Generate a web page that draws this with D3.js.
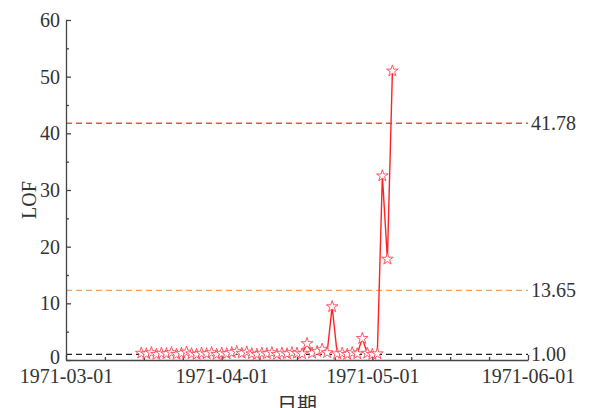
<!DOCTYPE html>
<html>
<head>
<meta charset="utf-8">
<script src="https://cdn.jsdelivr.net/npm/d3@7"></script>
<style>
  html, body { margin: 0; padding: 0; background: #fff; }
  svg { display: block; }
  .axis text { font-family: "Liberation Serif", "DejaVu Serif", serif; font-size: 20px; fill: #333; }
  .axis path, .axis line { stroke: #444; stroke-width: 1.3; }
  .thr-label { font-family: "Liberation Serif", serif; font-size: 20px; fill: #333; }
  .title { font-family: "Liberation Serif", serif; font-size: 20px; fill: #333; }
</style>
</head>
<body>
<div id="chart"></div>
<script>
// data (daily LOF values)
const dates = [
  '1971-03-16','1971-03-17','1971-03-18','1971-03-19','1971-03-20','1971-03-21','1971-03-22',
  '1971-03-23','1971-03-24','1971-03-25','1971-03-26','1971-03-27','1971-03-28','1971-03-29',
  '1971-03-30','1971-03-31','1971-04-01','1971-04-02','1971-04-03','1971-04-04','1971-04-05',
  '1971-04-06','1971-04-07','1971-04-08','1971-04-09','1971-04-10','1971-04-11','1971-04-12',
  '1971-04-13','1971-04-14','1971-04-15','1971-04-16','1971-04-17','1971-04-18','1971-04-19',
  '1971-04-20','1971-04-21','1971-04-22','1971-04-23','1971-04-24','1971-04-25','1971-04-26',
  '1971-04-27','1971-04-28','1971-04-29','1971-04-30','1971-05-01','1971-05-02','1971-05-03',
  '1971-05-04','1971-05-05'
];
const lofValues = [
  1.2, 1.1, 1.3, 1.0, 1.2, 1.1, 1.3,
  1.0, 1.2, 1.4, 1.1, 1.0, 1.2, 1.1,
  1.3, 1.0, 1.2, 1.1, 1.3, 1.5, 1.2,
  1.4, 1.1, 1.0, 1.2, 1.1, 1.3, 1.0,
  1.2, 1.1, 1.3, 1.2, 1.1, 2.9, 1.2,
  1.5, 1.9, 1.3, 9.4, 1.1, 1.2, 1.0,
  1.3, 1.1, 3.8, 1.2, 1.0, 1.1, 32.5,
  17.8, 51.0
];
// threshold lines: drawn position and the label printed beside them
const thresholdValues = [1.0, 12.3, 41.78];
const thresholdLabels = ['1.00', '13.65', '41.78'];
const thresholdColors = ['#222', '#f4a060', '#ff4a4a'];

const xTicks = ['1971-03-01', '1971-04-01', '1971-05-01', '1971-06-01'];
const yTicks = [0, 10, 20, 30, 40, 50, 60];
const yMinorTicks = [5, 15, 25, 35, 45, 55];

const width = 590, height = 408;
const margin = { top: 20, right: 62, bottom: 48, left: 66 };
const w = width - margin.left - margin.right;
const h = height - margin.top - margin.bottom;

const parseDate = d3.timeParse('%Y-%m-%d');
const data = dates.map((d, i) => ({ date: parseDate(d), value: lofValues[i] }));
const xTickDates = xTicks.map(parseDate);

const svg = d3.select('#chart').append('svg')
  .attr('width', width).attr('height', height);
const g = svg.append('g').attr('transform', `translate(${margin.left},${margin.top})`);

const x = d3.scaleTime()
  .domain(d3.extent(xTickDates))
  .range([0, w]);
const y = d3.scaleLinear()
  .domain([0, 60])
  .range([h, 0]);

// minor x ticks: quarters between month ticks
const xMinor = [];
for (let i = 0; i < xTickDates.length - 1; i++){
  const a = xTickDates[i].getTime(), b = xTickDates[i + 1].getTime();
  for (let k = 1; k < 4; k++) xMinor.push(new Date(a + (b - a) * k / 4));
}

// threshold lines
thresholdValues.forEach((v, i) => {
  g.append('line')
    .attr('x1', 0).attr('x2', w)
    .attr('y1', y(v)).attr('y2', y(v))
    .attr('stroke', thresholdColors[i])
    .attr('stroke-width', 1.3)
    .attr('stroke-dasharray', '6,4');
  g.append('text')
    .attr('class', 'thr-label')
    .attr('x', w + 3)
    .attr('y', y(v))
    .attr('dy', '0.35em')
    .text(thresholdLabels[i]);
});

// axes
g.append('g')
  .attr('class', 'axis')
  .attr('transform', `translate(0,${h})`)
  .call(d3.axisBottom(x).tickValues(xTickDates).tickSizeInner(-5).tickSizeOuter(0)
    .tickPadding(9).tickFormat(d3.timeFormat('%Y-%m-%d')));
g.append('g')
  .attr('class', 'axis')
  .attr('transform', `translate(0,${h})`)
  .call(d3.axisBottom(x).tickValues(xMinor).tickSizeInner(-3).tickSizeOuter(0).tickFormat(''))
  .select('.domain').remove();

const yAxis = g.append('g')
  .attr('class', 'axis')
  .call(d3.axisLeft(y).tickValues(yTicks).tickSizeInner(-5).tickSizeOuter(0).tickPadding(6));
// the "0" label sits a little above the corner
yAxis.selectAll('.tick text').filter(d => d === 0).attr('dy', '0.15em');
g.append('g')
  .attr('class', 'axis')
  .call(d3.axisLeft(y).tickValues(yMinorTicks).tickSizeInner(-3).tickSizeOuter(0).tickFormat(''))
  .select('.domain').remove();

// series line
const line = d3.line().x(d => x(d.date)).y(d => y(d.value));
g.append('path')
  .datum(data)
  .attr('fill', 'none')
  .attr('stroke', '#f22')
  .attr('stroke-width', 1.4)
  .attr('d', line);

// star markers
const star = d3.symbol().type(d3.symbolStar).size(42);
g.selectAll('path.pt')
  .data(data)
  .join('path')
  .attr('class', 'pt')
  .attr('transform', d => `translate(${x(d.date)},${y(d.value)})`)
  .attr('d', star)
  .attr('fill', '#fff')
  .attr('stroke', '#f45')
  .attr('stroke-width', 0.9);

// axis titles
svg.append('text')
  .attr('class', 'title')
  .attr('transform', `translate(36,${margin.top + h / 2 + 10}) rotate(-90)`)
  .attr('text-anchor', 'middle')
  .text('LOF');
svg.append('text')
  .attr('class', 'title')
  .attr('x', margin.left + w / 2)
  .attr('y', 412)
  .attr('text-anchor', 'middle')
  .style('font-family', '"Noto Sans CJK SC", sans-serif')
  .text('日期');
</script>
</body>
</html>
